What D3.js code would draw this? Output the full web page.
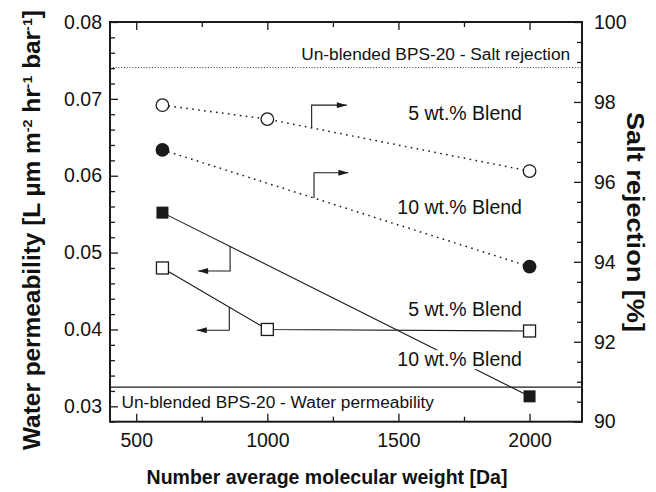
<!DOCTYPE html>
<html><head><meta charset="utf-8">
<script src="https://cdn.jsdelivr.net/npm/d3@7"></script>
<style>
body{margin:0;background:#fff}
svg text{font-family:Arial,"Liberation Sans",Helvetica,sans-serif;fill:#111}
</style>
</head><body><svg id="c" width="656" height="492"></svg>
<script>
// ---- data ----
const mw = [600, 1000, 2000];
const perm5 = [0.0480, 0.0400, 0.0398];     // open squares (left axis)
const rej5 = [97.92, 97.57, 96.27];         // open circles (right axis)
const mw10 = [600, 2000];
const perm10 = [0.0552, 0.0313];            // filled squares (left axis)
const rej10 = [96.80, 93.88];               // filled circles (right axis)
const unblendedPerm = 0.0325;
const unblendedRej = 98.86;
const xTicks = [500, 1000, 1500, 2000];
const xMinorTicks = [750, 1250, 1750];
const yLeftTicks = [0.03, 0.04, 0.05, 0.06, 0.07, 0.08];
const yLeftMinor = [0.028,0.032,0.034,0.036,0.038,0.042,0.044,0.046,0.048,0.052,0.054,0.056,0.058,0.062,0.064,0.066,0.068,0.072,0.074,0.076,0.078];
const yRightTicks = [90, 92, 94, 96, 98, 100];
const yRightMinor = [90.5,91,91.5,92.5,93,93.5,94.5,95,95.5,96.5,97,97.5,98.5,99,99.5];
const xTitle = "Number average molecular weight [Da]";
const rightTitle = "Salt rejection [%]";

// ---- layout ----
const L = 110, R = 582, T = 22, B = 421.7;
const svg = d3.select("#c");
const x = d3.scaleLinear().domain([400, 2200]).range([L, R]);
const yL = d3.scaleLinear().domain([0.028, 0.08]).range([B, T]);
const yR = d3.scaleLinear().domain([90, 100]).range([B, T]);
const ink = "#1a1a1a";

svg.append("defs").append("marker")
  .attr("id", "ah").attr("viewBox", "0 0 10 6").attr("refX", 10).attr("refY", 3)
  .attr("markerWidth", 11).attr("markerHeight", 6).attr("markerUnits", "userSpaceOnUse")
  .attr("orient", "auto")
  .append("path").attr("d", "M0,0L10,3L0,6Z").attr("fill", ink);

function styleAxis(g, fs) {
  g.select(".domain").remove();
  g.selectAll("line").attr("stroke", ink).attr("stroke-width", 1.3);
  g.selectAll("text").attr("font-size", fs).attr("fill", "#111");
}
const TF = 19.5;
// axes
svg.append("g").attr("transform", `translate(${L},0)`)
  .call(d3.axisLeft(yL).tickValues(yLeftTicks).tickSizeInner(-8).tickSizeOuter(0).tickPadding(8).tickFormat(d3.format(".2f")))
  .call(g => styleAxis(g, TF));
svg.append("g").attr("transform", `translate(${L},0)`)
  .call(d3.axisLeft(yL).tickValues(yLeftMinor).tickSizeInner(-5).tickSizeOuter(0).tickFormat(""))
  .call(g => styleAxis(g, TF));
svg.append("g").attr("transform", `translate(${R},0)`)
  .call(d3.axisRight(yR).tickValues(yRightTicks).tickSizeInner(-8).tickSizeOuter(0).tickPadding(12).tickFormat(d3.format("d")))
  .call(g => styleAxis(g, TF));
svg.append("g").attr("transform", `translate(${R},0)`)
  .call(d3.axisRight(yR).tickValues(yRightMinor).tickSizeInner(-5).tickSizeOuter(0).tickFormat(""))
  .call(g => styleAxis(g, TF));
svg.append("g").attr("transform", `translate(0,${B})`)
  .call(d3.axisBottom(x).tickValues(xTicks).tickSizeInner(-8).tickSizeOuter(0).tickPadding(11).tickFormat(d3.format("d")))
  .call(g => styleAxis(g, TF));
svg.append("g").attr("transform", `translate(0,${B})`)
  .call(d3.axisBottom(x).tickValues(xMinorTicks).tickSizeInner(-5).tickSizeOuter(0).tickFormat(""))
  .call(g => styleAxis(g, TF));
svg.append("g").attr("transform", `translate(0,${T})`)
  .call(d3.axisTop(x).tickValues(xTicks).tickSizeInner(-8).tickSizeOuter(0).tickFormat(""))
  .call(g => styleAxis(g, TF));
svg.append("g").attr("transform", `translate(0,${T})`)
  .call(d3.axisTop(x).tickValues(xMinorTicks).tickSizeInner(-5).tickSizeOuter(0).tickFormat(""))
  .call(g => styleAxis(g, TF));

// frame
svg.append("rect").attr("x", L).attr("y", T).attr("width", R - L).attr("height", B - T)
  .attr("fill", "none").attr("stroke", ink).attr("stroke-width", 2);

// reference lines
svg.append("line").attr("x1", L).attr("x2", R).attr("y1", yR(unblendedRej)).attr("y2", yR(unblendedRej))
  .attr("stroke", "#333").attr("stroke-width", 1).attr("stroke-dasharray", "1,1.8");
svg.append("line").attr("x1", L).attr("x2", R).attr("y1", yL(unblendedPerm)).attr("y2", yL(unblendedPerm))
  .attr("stroke", ink).attr("stroke-width", 1.1);
svg.append("text").attr("x", x(2155)).attr("y", yR(unblendedRej) - 8).attr("text-anchor", "end")
  .attr("font-size", 17.3).text("Un-blended BPS-20 - Salt rejection");
svg.append("text").attr("x", x(444)).attr("y", yL(unblendedPerm) + 21).attr("text-anchor", "start")
  .attr("font-size", 17.3).text("Un-blended BPS-20 - Water permeability");

// series lines
const lineL = d3.line().x(d => x(d[0])).y(d => yL(d[1]));
const lineR = d3.line().x(d => x(d[0])).y(d => yR(d[1]));
const s5p = d3.zip(mw, perm5), s10p = d3.zip(mw10, perm10);
const s5r = d3.zip(mw, rej5), s10r = d3.zip(mw10, rej10);
svg.append("path").attr("d", lineR(s5r)).attr("fill", "none").attr("stroke", ink)
  .attr("stroke-width", 1.5).attr("stroke-dasharray", "1.6,4.4");
svg.append("path").attr("d", lineR(s10r)).attr("fill", "none").attr("stroke", ink)
  .attr("stroke-width", 1.5).attr("stroke-dasharray", "1.6,4.4");
svg.append("path").attr("d", lineL(s5p)).attr("fill", "none").attr("stroke", ink).attr("stroke-width", 1.1);
svg.append("path").attr("d", lineL(s10p)).attr("fill", "none").attr("stroke", ink).attr("stroke-width", 1.1);

// labels
function label(txt, xv, yv, bg) {
  const t = svg.append("text").attr("x", x(xv)).attr("y", yv).attr("text-anchor", "end")
    .attr("font-size", 19.5).text(txt);
  if (bg) {
    const bb = t.node().getBBox();
    svg.insert("rect", () => t.node()).attr("x", bb.x - 2).attr("y", bb.y + 2)
      .attr("width", bb.width + 4).attr("height", bb.height - 3).attr("fill", "#fff");
  }
}
label("5 wt.% Blend", 1971, yR(97.55));
label("10 wt.% Blend", 1971, yR(95.20));
label("5 wt.% Blend", 1971, yL(0.0418));
label("10 wt.% Blend", 1971, yL(0.03522), true);

// elbow arrows
function interp(series, xv) {
  for (let i = 0; i < series.length - 1; i++) {
    const [x0, y0] = series[i], [x1, y1] = series[i + 1];
    if (xv >= x0 && xv <= x1) return y0 + (y1 - y0) * (xv - x0) / (x1 - x0);
  }
}
function elbow(series, ys, xv, yEnd, xTip) {
  const x0 = x(xv), y0 = ys(interp(series, xv)), y1 = ys(yEnd);
  svg.append("path").attr("d", `M${x0},${y0}V${y1}H${x(xTip)}`)
    .attr("fill", "none").attr("stroke", ink).attr("stroke-width", 1.1).attr("marker-end", "url(#ah)");
}
elbow(s5r, yR, 1169, 97.92, 1303);
elbow(s10r, yR, 1178, 96.23, 1309);
elbow(s10p, yL, 858, 0.0476, 736);
elbow(s5p, yL, 855, 0.0399, 731);

// markers
const cs = 6.3, sq = 12;
svg.selectAll(".c5").data(s5r).join("circle").attr("cx", d => x(d[0])).attr("cy", d => yR(d[1]))
  .attr("r", cs).attr("fill", "#fff").attr("stroke", ink).attr("stroke-width", 1.3);
svg.selectAll(".c10").data(s10r).join("circle").attr("cx", d => x(d[0])).attr("cy", d => yR(d[1]))
  .attr("r", cs + 0.6).attr("fill", ink);
svg.selectAll(".s5").data(s5p).join("rect").attr("x", d => x(d[0]) - sq / 2).attr("y", d => yL(d[1]) - sq / 2)
  .attr("width", sq).attr("height", sq).attr("fill", "#fff").attr("stroke", ink).attr("stroke-width", 1.3);
svg.selectAll(".s10").data(s10p).join("rect").attr("x", d => x(d[0]) - sq / 2).attr("y", d => yL(d[1]) - sq / 2)
  .attr("width", sq).attr("height", sq).attr("fill", ink);

// axis titles
svg.append("text").attr("x", 327).attr("y", 484).attr("text-anchor", "middle")
  .attr("font-size", 19.5).attr("font-weight", "bold").text(xTitle);
const lt = svg.append("text").attr("transform", "translate(40,230) rotate(-90)").attr("text-anchor", "middle")
  .attr("font-size", 23).attr("font-weight", "bold")
  .attr("textLength", 440).attr("lengthAdjust", "spacingAndGlyphs");
lt.append("tspan").text("Water permeability [L µm m");
lt.append("tspan").attr("dy", -8).attr("font-size", 13.5).text("-2");
lt.append("tspan").attr("dy", 8).text(" hr");
lt.append("tspan").attr("dy", -8).attr("font-size", 13.5).text("-1");
lt.append("tspan").attr("dy", 8).text(" bar");
lt.append("tspan").attr("dy", -8).attr("font-size", 13.5).text("-1");
lt.append("tspan").attr("dy", 8).text("]");
svg.append("text").attr("transform", "translate(627,222) rotate(90)").attr("text-anchor", "middle")
  .attr("font-size", 23).attr("font-weight", "bold")
  .attr("textLength", 220).attr("lengthAdjust", "spacingAndGlyphs").text(rightTitle);
</script>
</body></html>
